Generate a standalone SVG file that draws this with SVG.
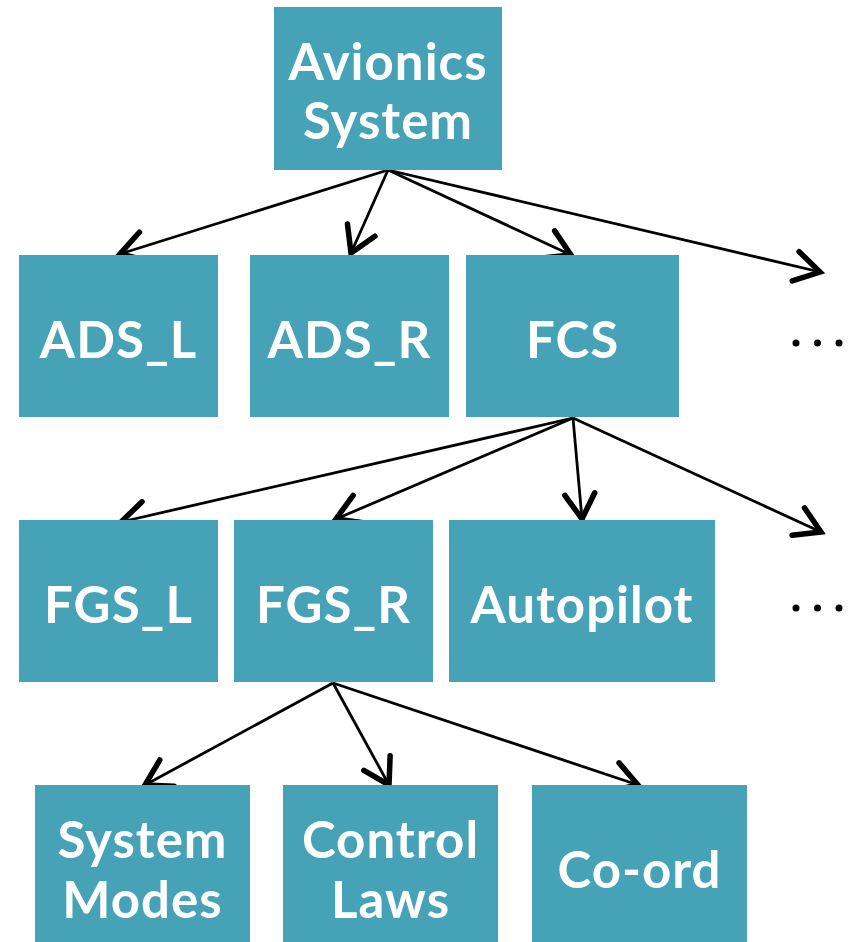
<svg xmlns="http://www.w3.org/2000/svg" width="852" height="942" viewBox="0 0 852 942">
<style>
.box{fill:#45a2b7}
.t{font-family:Lato,"Open Sans","Liberation Sans",sans-serif;font-weight:bold;font-size:51px;letter-spacing:1px;fill:#fff;text-anchor:middle}
.c{stroke:#000;stroke-width:2.8;fill:none;marker-end:url(#ah)}
.dot{fill:#000}
</style>
<defs>
<marker id="ah" markerUnits="userSpaceOnUse" markerWidth="50" markerHeight="50" viewBox="-32 -25 38 50" refX="0" refY="0" orient="auto">
<path d="M-25,-15 L0,0 L-25,15" fill="none" stroke="#000" stroke-width="5.5" stroke-linecap="round" stroke-linejoin="miter"/>
</marker>
</defs>
<rect width="852" height="942" fill="#fff"/>
<g id="connectors">
<line class="c" x1="388" y1="170" x2="120" y2="254"/>
<line class="c" x1="388" y1="170" x2="351" y2="253"/>
<line class="c" x1="388" y1="170" x2="571" y2="255"/>
<line class="c" x1="388" y1="170" x2="820" y2="272"/>
<line class="c" x1="573" y1="418" x2="121" y2="522"/>
<line class="c" x1="573" y1="418" x2="336" y2="519"/>
<line class="c" x1="573" y1="418" x2="582" y2="519"/>
<line class="c" x1="573" y1="418" x2="821" y2="532"/>
<line class="c" x1="333" y1="683" x2="145" y2="785"/>
<line class="c" x1="333" y1="683" x2="389" y2="785"/>
<line class="c" x1="333" y1="683" x2="638" y2="785"/>
</g>
<g id="avionics"><rect class="box" x="274" y="7" width="228" height="163"/><text class="t" x="388" y="80">Avionics</text><text class="t" x="388" y="139">System</text></g>
<g id="ads_l"><rect class="box" x="19" y="255" width="199" height="162"/><text class="t" x="118.5" y="358">ADS_L</text></g>
<g id="ads_r"><rect class="box" x="250" y="255" width="199" height="162"/><text class="t" x="349.5" y="358">ADS_R</text></g>
<g id="fcs"><rect class="box" x="466" y="255" width="213" height="162"/><text class="t" x="572.5" y="358">FCS</text></g>
<g id="more1"><circle class="dot" cx="796" cy="343" r="3.5"/><circle class="dot" cx="817.5" cy="343" r="3.5"/><circle class="dot" cx="839" cy="343" r="3.5"/></g>
<g id="fgs_l"><rect class="box" x="19" y="520" width="199" height="162"/><text class="t" x="118.5" y="623">FGS_L</text></g>
<g id="fgs_r"><rect class="box" x="234" y="520" width="199" height="162"/><text class="t" x="333.5" y="623">FGS_R</text></g>
<g id="autopilot"><rect class="box" x="449" y="520" width="266" height="162"/><text class="t" x="582" y="623">Autopilot</text></g>
<g id="more2"><circle class="dot" cx="796" cy="608" r="3.5"/><circle class="dot" cx="817.5" cy="608" r="3.5"/><circle class="dot" cx="839" cy="608" r="3.5"/></g>
<g id="system_modes"><rect class="box" x="35" y="785" width="215" height="157"/><text class="t" x="142.5" y="858">System</text><text class="t" x="142.5" y="918">Modes</text></g>
<g id="control_laws"><rect class="box" x="283" y="785" width="215" height="157"/><text class="t" x="390.5" y="858">Control</text><text class="t" x="390.5" y="918">Laws</text></g>
<g id="coord"><rect class="box" x="532" y="785" width="215" height="157"/><text class="t" x="639.5" y="888">Co-ord</text></g>
</svg>
